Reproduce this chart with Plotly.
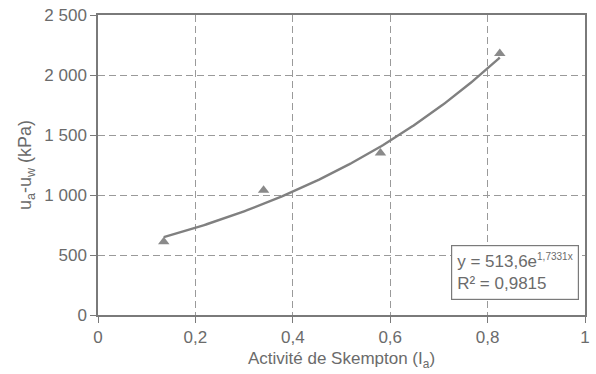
import numpy as np
import plotly.graph_objects as go

# Measured points: Skempton activity vs suction
activity = [0.135, 0.34, 0.58, 0.825]
suction_kpa = [610, 1040, 1350, 2180]

# Exponential trendline coefficients (y = a * exp(b x))
fit_a = 513.6
fit_b = 1.7331
fit_r2 = "0,9815"

x_tickvals = [0, 0.2, 0.4, 0.6, 0.8, 1]
x_ticktext = ["0", "0,2", "0,4", "0,6", "0,8", "1"]
y_tickvals = [0, 500, 1000, 1500, 2000, 2500]
y_ticktext = ["0", "500", "1 000", "1 500", "2 000", "2 500"]

grey_text = "#6b6b6b"
grey_line = "#7a7a7a"
grid_col = "#9a9a9a"
font_family = "Liberation Sans, Arial, sans-serif"

fit_x = np.linspace(min(activity), max(activity), 200)
fit_y = fit_a * np.exp(fit_b * fit_x)

fig = go.Figure()
fig.add_trace(go.Scatter(
    x=fit_x, y=fit_y, mode="lines",
    line=dict(color="#808080", width=2.4),
    hoverinfo="skip", showlegend=False,
))
fig.add_trace(go.Scatter(
    x=activity, y=suction_kpa, mode="markers",
    marker=dict(symbol="triangle-up", size=10, color="#8a8a8a"),
    showlegend=False,
))

axis_common = dict(
    showline=True, linecolor=grey_line, linewidth=1.5, mirror=True,
    showgrid=True, gridcolor=grid_col, gridwidth=1, griddash="7px,4px",
    ticks="outside", ticklen=6, tickcolor=grey_line,
    tickfont=dict(family=font_family, size=17, color=grey_text),
    zeroline=False,
)

fig.update_layout(
    width=596, height=374,
    margin=dict(l=98, r=6, t=15, b=59),
    paper_bgcolor="white", plot_bgcolor="white",
    font=dict(family=font_family, size=17, color=grey_text),
    xaxis=dict(
        range=[0, 1], tickvals=x_tickvals, ticktext=x_ticktext,
        title=dict(text="Activité de Skempton (I<sub>a</sub>)", standoff=6,
                   font=dict(family=font_family, size=17, color=grey_text)),
        **axis_common,
    ),
    yaxis=dict(
        range=[0, 2500], tickvals=y_tickvals, ticktext=y_ticktext,
        title=dict(text="u<sub>a</sub>-u<sub>w</sub> (kPa)", standoff=8,
                   font=dict(family=font_family, size=18, color=grey_text)),
        **axis_common,
    ),
    annotations=[dict(
        xref="paper", yref="paper", x=0.988, y=0.05,
        xanchor="right", yanchor="bottom", align="left",
        text=(f"y = {str(fit_a).replace('.', ',')}e"
              f"<sup><span style='font-size:10px;color:{grey_text}'>"
              f"{str(fit_b).replace('.', ',')}x</span></sup>"
              f"<br>R² = {fit_r2}"),
        showarrow=False, bgcolor="white",
        bordercolor=grey_line, borderwidth=1.2, borderpad=5,
        font=dict(family=font_family, size=17, color=grey_text),
    )],
)

fig.write_html("out.html")
